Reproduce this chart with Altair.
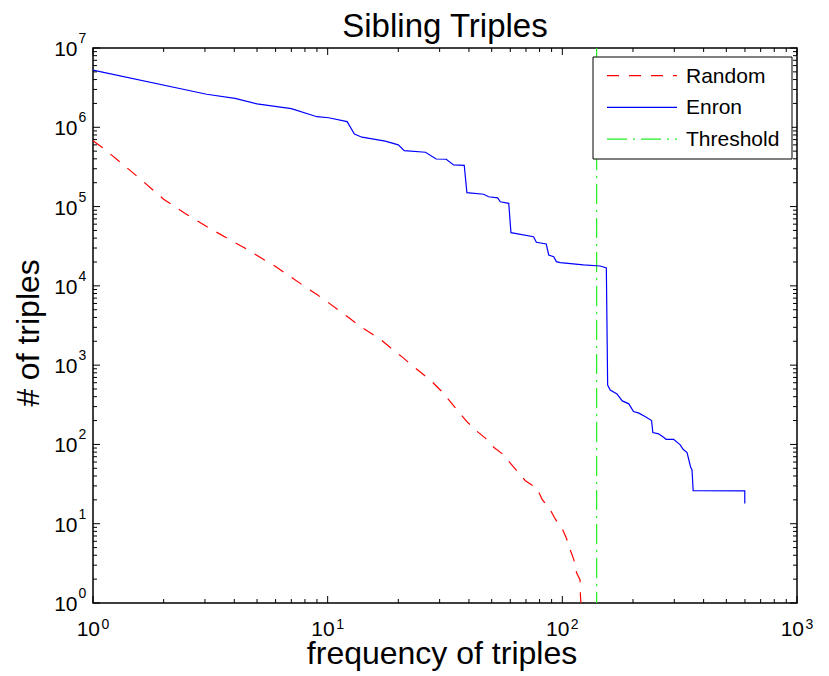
import altair as alt
import pandas as pd

# ---- data ----
enron_x = [1, 3.05, 4.03, 5.0, 7.0, 9.0, 10.1, 12.1, 13.0, 14.0, 17.6, 20.0, 21.2, 26.1,
           29.0, 32.0, 34.4, 38.2, 39.2, 46.2, 48.5, 53.0, 54.4, 59.1, 60.4, 75.4, 77.5,
           85.4, 87.5, 91.9, 94.3, 98.0, 123, 145, 154, 156, 160, 171, 180, 192, 201, 212,
           226, 240, 243, 257, 270, 277, 298, 318, 327, 340, 352, 357, 361, 599, 599]
enron_y = [5.27e6, 2.61e6, 2.32e6, 1.97e6, 1.72e6, 1.36e6, 1.32e6, 1.18e6, 8.2e5, 7.5e5,
           6.7e5, 6.0e5, 5.07e5, 4.84e5, 3.98e5, 3.95e5, 3.35e5, 3.31e5, 1.50e5, 1.43e5,
           1.33e5, 1.29e5, 1.15e5, 1.10e5, 4.69e4, 4.17e4, 3.55e4, 3.37e4, 2.45e4, 2.33e4,
           2.02e4, 1.96e4, 1.84e4, 1.78e4, 1.68e4, 562, 486, 434, 354, 325, 260, 248, 224,
           200, 141, 136, 123, 116, 116, 98.6, 87, 79, 52, 47.7, 26.1, 26, 18]

random_x = [1, 1.107, 1.35, 1.64, 2.0, 2.47, 3.05, 3.84, 4.45, 6.0, 8.2, 9.04, 10.1, 11.1,
            12.4, 13.7, 15.3, 16.9, 18.8, 20.7, 22.8, 25.2, 27.8, 30.4, 33.1, 35.6, 39.2,
            42.6, 47.0, 51.0, 56.2, 60.0, 65.1, 69.6, 78.0, 81.9, 88.9, 93.4, 99.7, 104,
            108, 112, 115, 119, 119.4, 120]
random_y = [6.78e5, 5.43e5, 3.35e5, 2.06e5, 1.24e5, 8.2e4, 5.6e4, 3.8e4, 2.98e4, 1.75e4,
            9.3e3, 7.7e3, 6.1e3, 4.96e3, 3.9e3, 3.12e3, 2.52e3, 2.08e3, 1.6e3, 1.28e3,
            1.0e3, 790, 620, 476, 354, 272, 194, 152, 120, 92, 74, 58, 44, 34.9, 28, 20.4,
            14.9, 11.4, 8.8, 6.6, 4.7, 3.5, 2.4, 1.95, 1.26, 1.0]

threshold = [140]

x_major = [1, 10, 100, 1000]
x_exp = ["0", "1", "2", "3"]
y_major = [1, 10, 100, 1e3, 1e4, 1e5, 1e6, 1e7]
y_exp = ["0", "1", "2", "3", "4", "5", "6", "7"]
x_minor = [m * 10 ** k for k in range(3) for m in range(2, 10)]
y_minor = [m * 10 ** k for k in range(7) for m in range(2, 10)]

legend_labels = ["Random", "Enron", "Threshold"]
legend_colors = ["#ff0000", "#0000ff", "#22ee22"]
legend_dash = [[12, 10], [1, 0], [20, 6, 2, 6]]

title_text = "Sibling Triples"
xlabel = "frequency of triples"
ylabel = "# of triples"

# ---- layout ----
W, H = 704, 555
FONT = "Liberation Sans"

xs = alt.Scale(type="log", domain=[1, 1000], nice=False)
ys = alt.Scale(type="log", domain=[1, 1e7], nice=False)

layers = []

thr = alt.Chart(pd.DataFrame({"x": threshold})).mark_rule(
    color=legend_colors[2], strokeWidth=1.2, strokeDash=legend_dash[2]
).encode(x=alt.X("x:Q", scale=xs, axis=None))
layers.append(thr)

rnd = alt.Chart(pd.DataFrame({"x": random_x, "y": random_y, "o": range(len(random_x))})).mark_line(
    color=legend_colors[0], strokeWidth=1.2, strokeDash=legend_dash[0]
).encode(x=alt.X("x:Q", scale=xs, axis=None), y=alt.Y("y:Q", scale=ys, axis=None), order="o:Q")
layers.append(rnd)

enr = alt.Chart(pd.DataFrame({"x": enron_x, "y": enron_y, "o": range(len(enron_x))})).mark_line(
    color=legend_colors[1], strokeWidth=1.2
).encode(x=alt.X("x:Q", scale=xs, axis=None), y=alt.Y("y:Q", scale=ys, axis=None), order="o:Q")
layers.append(enr)

# ticks (inward, on all four sides)
def xticks(vals, L):
    df = pd.DataFrame({"v": vals})
    b = alt.Chart(df).mark_rule(color="black", strokeWidth=1).encode(
        x=alt.X("v:Q", scale=xs, axis=None), y=alt.value(H), y2=alt.value(H - L))
    t = alt.Chart(df).mark_rule(color="black", strokeWidth=1).encode(
        x=alt.X("v:Q", scale=xs, axis=None), y=alt.value(0), y2=alt.value(L))
    return [b, t]

def yticks(vals, L):
    df = pd.DataFrame({"v": vals})
    l = alt.Chart(df).mark_rule(color="black", strokeWidth=1).encode(
        y=alt.Y("v:Q", scale=ys, axis=None), x=alt.value(0), x2=alt.value(L))
    r = alt.Chart(df).mark_rule(color="black", strokeWidth=1).encode(
        y=alt.Y("v:Q", scale=ys, axis=None), x=alt.value(W), x2=alt.value(W - L))
    return [l, r]

layers += xticks(x_major, 7) + xticks(x_minor, 4) + yticks(y_major, 7) + yticks(y_minor, 4)

# tick labels
xl = pd.DataFrame({"v": x_major, "e": x_exp})
layers.append(alt.Chart(xl).mark_text(font=FONT, fontSize=21, align="right", baseline="alphabetic", dx=7).encode(
    x=alt.X("v:Q", scale=xs, axis=None), y=alt.value(H + 33), text=alt.value("10")))
layers.append(alt.Chart(xl).mark_text(font=FONT, fontSize=14, align="left", baseline="alphabetic", dx=8.5).encode(
    x=alt.X("v:Q", scale=xs, axis=None), y=alt.value(H + 26), text="e:N"))

yl = pd.DataFrame({"v": y_major, "e": y_exp})
layers.append(alt.Chart(yl).mark_text(font=FONT, fontSize=21, align="right", baseline="alphabetic", dy=8).encode(
    y=alt.Y("v:Q", scale=ys, axis=None), x=alt.value(-15.5), text=alt.value("10")))
layers.append(alt.Chart(yl).mark_text(font=FONT, fontSize=14, align="left", baseline="alphabetic", dy=-5).encode(
    y=alt.Y("v:Q", scale=ys, axis=None), x=alt.value(-14.5), text="e:N"))

# titles
one = pd.DataFrame({"a": [0]})
layers.append(alt.Chart(one).mark_text(font=FONT, fontSize=33, align="center", baseline="alphabetic").encode(
    x=alt.value(W / 2), y=alt.value(-11), text=alt.value(title_text)))
layers.append(alt.Chart(one).mark_text(font=FONT, fontSize=32, align="center", baseline="alphabetic").encode(
    x=alt.value(W / 2 - 3), y=alt.value(H + 61), text=alt.value(xlabel)))
layers.append(alt.Chart(one).mark_text(font=FONT, fontSize=32, align="center", baseline="alphabetic", angle=270).encode(
    x=alt.value(-54), y=alt.value(285), text=alt.value(ylabel)))

# legend
layers.append(alt.Chart(one).mark_rect(fill="white", stroke="black", strokeWidth=1).encode(
    x=alt.value(500), x2=alt.value(699), y=alt.value(9), y2=alt.value(111)))
for i, lab in enumerate(legend_labels):
    yy = 27.7 + 31.7 * i
    layers.append(alt.Chart(one).mark_rule(color=legend_colors[i], strokeWidth=1.2, strokeDash=legend_dash[i]).encode(
        x=alt.value(514), x2=alt.value(584), y=alt.value(yy)))
    layers.append(alt.Chart(one).mark_text(font=FONT, fontSize=21, align="left", baseline="middle").encode(
        x=alt.value(593), y=alt.value(yy + 1), text=alt.value(lab)))

chart = alt.layer(*layers).properties(
    width=W, height=H,
    autosize=alt.AutoSizeParams(type="none"),
    padding={"left": 85, "top": 40, "right": 20, "bottom": 76},
    background="white",
).configure_view(stroke="black", strokeWidth=1.5)

chart.save("out.html", embed_options={"renderer": "svg", "actions": False})
